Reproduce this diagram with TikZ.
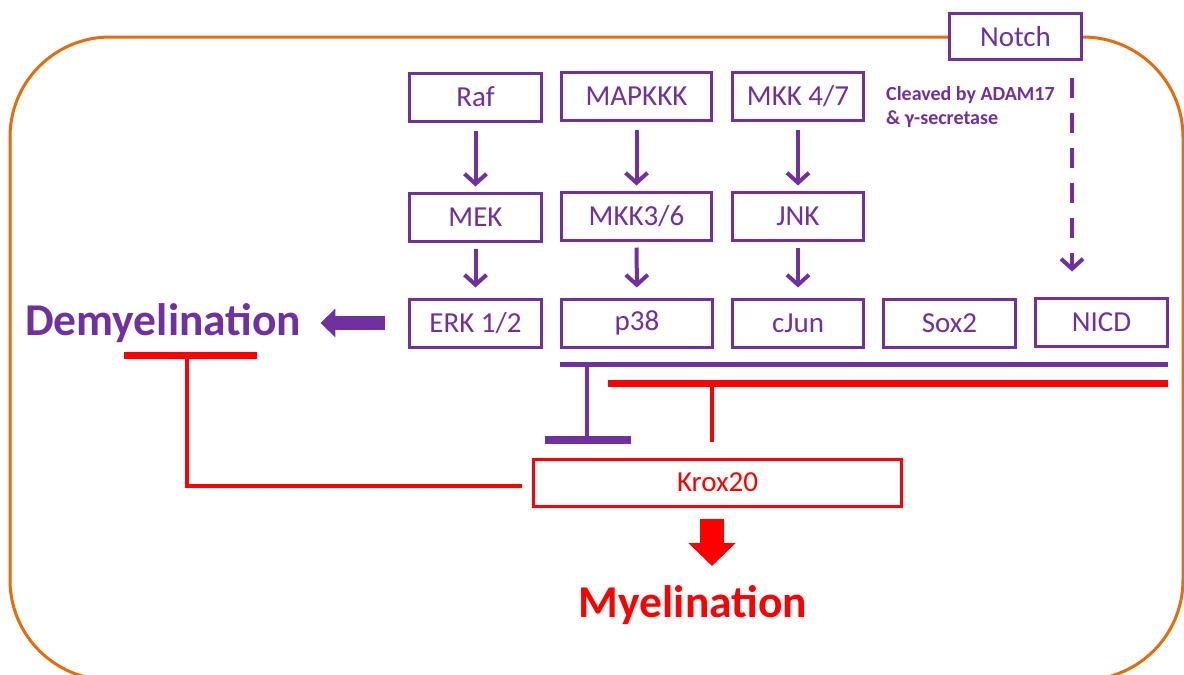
\documentclass[tikz,border=0pt]{standalone}
\usepackage{fontspec}
\setmainfont{Carlito}
\usetikzlibrary{arrows.meta,calc}
\definecolor{ppl}{HTML}{7030A0}
\definecolor{rd}{HTML}{FF0000}
\definecolor{org}{HTML}{E46C0A}
\tikzset{
  pbox/.style={draw=ppl, line width=3pt, fill=white, text=ppl, inner sep=0pt,
    minimum height=48pt, font=\fontsize{29}{34}\selectfont},
  rbox/.style={draw=rd, line width=3pt, fill=white, text=rd, inner sep=0pt,
    minimum height=47pt, font=\fontsize{29}{34}\selectfont},
  parr/.style={draw=ppl, line width=4pt, -{Straight Barb[length=10pt,width=22pt]}},
  dasharr/.style={parr, dash pattern=on 20pt off 15pt},
  bigtxt/.style={inner sep=0pt, font=\fontsize{45.5}{54}\selectfont\bfseries},
  pline/.style={draw=ppl, line width=5pt},
  rline/.style={draw=rd, line width=4pt},
}
\begin{document}
\begin{tikzpicture}[x=1pt,y=-1pt]
\useasboundingbox (0,0) rectangle (1184,675);
\clip (0,0) rectangle (1184,675);
% cell outline
\draw[org, line width=3pt, rounded corners=100pt] (10,37) rectangle (1183,680);
% boxes
\node[pbox, minimum width=132pt] (Raf) at (475.5,97) {Raf};
\node[pbox, minimum width=150pt] (MAPKKK) at (636.5,96.5) {MAPKKK};
\node[pbox, minimum width=131pt] (MKK47) at (798,96.5) {MKK 4/7};
\node[pbox, minimum width=132pt] (MEK) at (475.5,217) {MEK};
\node[pbox, minimum width=150pt] (MKK36) at (636.5,216) {MKK3/6};
\node[pbox, minimum width=131pt] (JNK) at (798,216) {JNK};
\node[pbox, minimum width=132pt] (ERK) at (475.5,323) {ERK 1/2};
\node[pbox, minimum width=151pt] (p38) at (637,323) {p38};
\node[pbox, minimum width=131pt] (cJun) at (798,323) {cJun};
\node[pbox, minimum width=132pt] (Sox2) at (949.5,323.5) {Sox2};
\node[pbox, minimum width=132pt] (NICD) at (1101.5,322) {NICD};
\node[pbox, minimum width=132pt, minimum height=46pt] (Notch) at (1015.5,36.5) {Notch};
\node[rbox, minimum width=368pt] (Krox) at (717.5,482.5) {Krox20};
% labels
\node[bigtxt, text=ppl, anchor=base west] (Demy) at (25,335) {Demyelination};
\node[bigtxt, text=rd, anchor=base] (Myel) at (693,617) {Myelination};
\node[text=ppl, anchor=north west, inner sep=0pt, align=left,
  font=\fontsize{20}{24}\selectfont\bfseries] (cleave) at (886,86) {Cleaved by ADAM17\\\& γ-secretase};
% cascade arrows
\draw[parr, shorten <=8pt, shorten >=5pt] (Raf) -- (MEK);
\draw[parr, shorten <=8pt, shorten >=5pt] (MAPKKK) -- (MKK36);
\draw[parr, shorten <=8pt, shorten >=5pt] (MKK47) -- (JNK);
\draw[parr, shorten <=6pt, shorten >=10pt] (MEK) -- (ERK);
\draw[parr, shorten <=6pt, shorten >=10pt] (MKK36) -- (p38);
\draw[parr, shorten <=6pt, shorten >=10pt] (JNK) -- (cJun);
\draw[dasharr, shorten <=17pt, shorten >=25pt] ([xshift=56.5pt]Notch.south) -- ([xshift=-29.5pt]NICD.north);
% block arrows
\draw[ppl, line width=14pt, -{Triangle[length=15pt,width=28pt]}, shorten <=23pt, shorten >=19pt]
  (ERK.west) -- (ERK.west -| Demy.east);
\coordinate (ktip) at (712,566);
\draw[rd, line width=24pt, -{Triangle[length=23pt,width=46pt]}, shorten <=11pt]
  ([xshift=-5.5pt]Krox.south) -- (ktip);
% inhibition by p38..NICD
\draw[pline] (p38.south west |- 0,364) -- (1168,364);
\draw[draw=ppl, line width=4pt] (587,364) -- (587,440);
\draw[draw=ppl, line width=8pt] (545,440) -- (631,440);
\draw[draw=rd, line width=7pt] (608,383) -- (1168,383);
\draw[rline] (712,383) -- (712,442);
% Krox20 inhibits demyelination
\draw[rline] ([xshift=-10pt]Krox.west |- 0,486) -- (187,486) -- (187,355);
\draw[draw=rd, line width=7pt] (124,355) -- (257,355);
\end{tikzpicture}
\end{document}
